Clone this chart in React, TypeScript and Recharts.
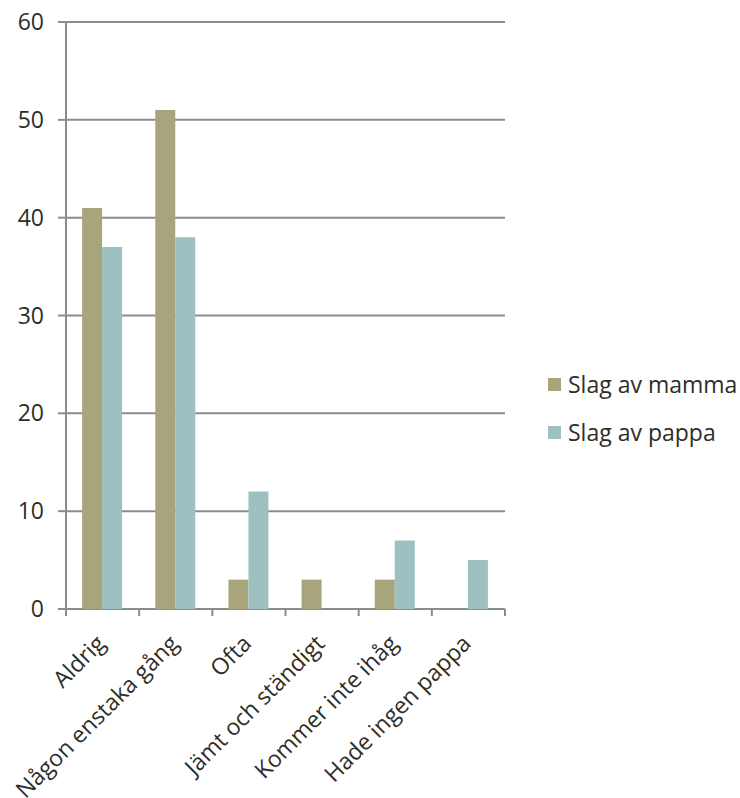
import React from 'react';
import { BarChart, Bar, XAxis, YAxis, CartesianGrid, Legend } from 'recharts';

// svarsalternativ på x-axeln
const categories = [
  'Aldrig',
  'Någon enstaka gång',
  'Ofta',
  'Jämt och ständigt',
  'Kommer inte ihåg',
  'Hade ingen pappa',
];
const mammaValues = [41, 51, 3, 3, 3, 0];
const pappaValues = [37, 38, 12, 0, 7, 5];
const seriesNames = ['Slag av mamma', 'Slag av pappa'];
const yTicks = [0, 10, 20, 30, 40, 50, 60];

const MAMMA_COLOR = '#a8a47c';
const PAPPA_COLOR = '#9dc1c0';
const GRID_COLOR = '#8c8c8c';
const TEXT_COLOR = '#2f2d27';
const FONT = '"Open Sans", "Liberation Sans", sans-serif';

const data = categories.map((name, i) => ({
  name,
  mamma: mammaValues[i],
  pappa: pappaValues[i],
}));

// etikett + kantstreck mellan kategorierna
function RotatedTick({ x, y, payload, index }: any) {
  const half = payload.offset || 0;
  const tx = x + 4;
  const ty = y + 36;
  const last = index === categories.length - 1;
  return (
    <g>
      <line x1={x - half} y1={y} x2={x - half} y2={y + 7} stroke={GRID_COLOR} strokeWidth={2} />
      {last && (
        <line x1={x + half} y1={y} x2={x + half} y2={y + 7} stroke={GRID_COLOR} strokeWidth={2} />
      )}
      <text
        x={tx}
        y={ty}
        transform={`rotate(-45, ${tx}, ${ty})`}
        textAnchor="end"
        fill={TEXT_COLOR}
        fontSize={23}
        fontFamily={FONT}
      >
        {payload.value}
      </text>
    </g>
  );
}

function LegendBox({ payload }: any) {
  return (
    <div style={{ fontFamily: FONT, fontSize: 23, color: TEXT_COLOR }}>
      {(payload || []).map((entry: any) => (
        <div
          key={entry.value}
          style={{ display: 'flex', alignItems: 'center', height: 48 }}
        >
          <span
            style={{
              display: 'inline-block',
              width: 13,
              height: 13,
              background: entry.color,
              marginRight: 7,
            }}
          />
          <span>{entry.value}</span>
        </div>
      ))}
    </div>
  );
}

export default function App() {
  return (
    <div style={{ position: 'absolute', left: 0, top: 0, width: 740, height: 798, background: '#fff' }}>
      <BarChart
        width={740}
        height={798}
        data={data}
        margin={{ top: 22, right: 235, bottom: 0, left: 0 }}
        barCategoryGap="22%"
        barGap={0}
      >
        <CartesianGrid vertical={false} stroke={GRID_COLOR} strokeWidth={2} />
        <XAxis
          dataKey="name"
          interval={0}
          tickLine={false}
          axisLine={false}
          tickSize={0}
          tickMargin={0}
          height={189}
          tick={<RotatedTick />}
        />
        <YAxis
          width={66}
          domain={[0, 60]}
          ticks={yTicks}
          tickSize={8}
          tickMargin={14}
          axisLine={{ stroke: GRID_COLOR, strokeWidth: 2 }}
          tickLine={{ stroke: GRID_COLOR, strokeWidth: 2 }}
          tick={{ fill: TEXT_COLOR, fontSize: 23, fontFamily: FONT }}
        />
        <Legend
          layout="horizontal"
          verticalAlign="middle"
          content={<LegendBox />}
          wrapperStyle={{ position: 'absolute', left: 548, top: 360, width: 192 }}
        />
        <Bar dataKey="mamma" name={seriesNames[0]} fill={MAMMA_COLOR} isAnimationActive={false} />
        <Bar dataKey="pappa" name={seriesNames[1]} fill={PAPPA_COLOR} isAnimationActive={false} />
      </BarChart>
    </div>
  );
}
